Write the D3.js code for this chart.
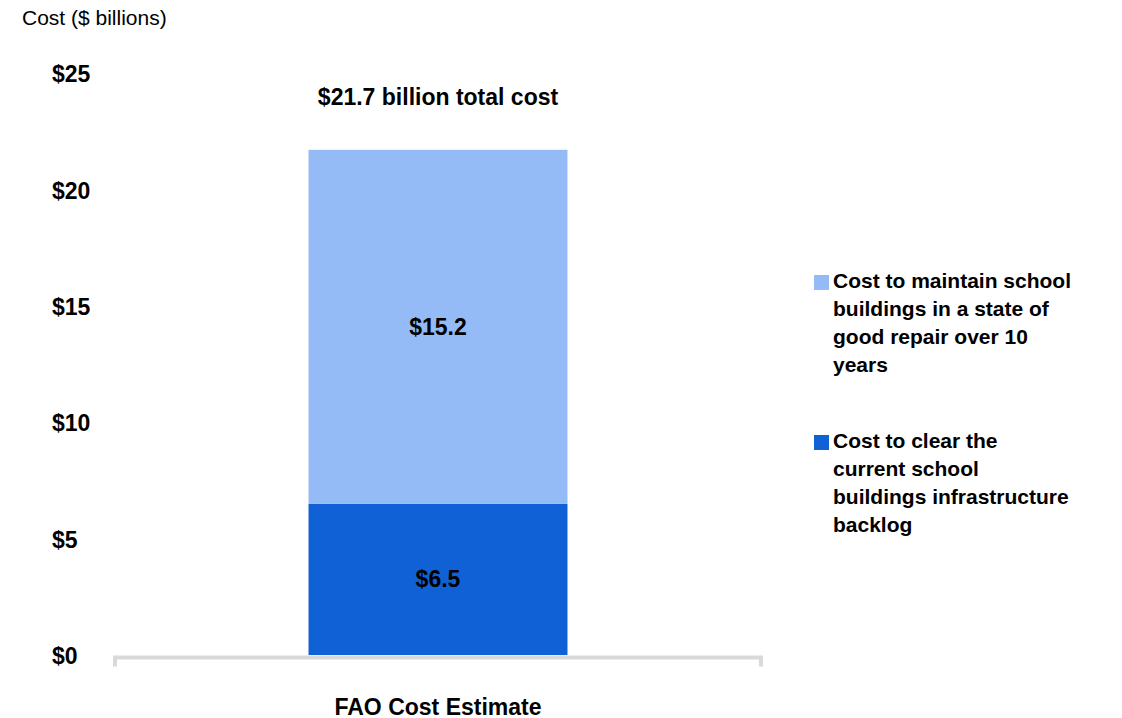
<!DOCTYPE html>
<html>
<head>
<meta charset="utf-8">
<script src="https://cdn.jsdelivr.net/npm/d3@7"></script>
<style>
  body { margin: 0; background: #fff; }
  text { font-family: "Liberation Sans", Arial, sans-serif; fill: #000; }
</style>
</head>
<body>
<div id="chart"></div>
<script>
// data
const categories = ["FAO Cost Estimate"];
const seriesNames = [
    ["Cost to clear the", "current school", "buildings infrastructure", "backlog"],
    ["Cost to maintain school", "buildings in a state of", "good repair over 10", "years"]
];
const backlog = [6.5];
const maintain = [15.2];
const yTicks = [0, 5, 10, 15, 20, 25];
const colors = ["#1161d6", "#95bbf7"];

const dimension = {
    width: 1122,
    height: 718,
    margin: { top: 73, left: 113, bottom: 63, right: 359 }
};
dimension.boundedWidth = dimension.width - dimension.margin.left - dimension.margin.right;
dimension.boundedHeight = dimension.height - dimension.margin.top - dimension.margin.bottom;

const svg = d3.select("#chart").append("svg")
    .attr("width", dimension.width)
    .attr("height", dimension.height);

const bounded = svg.append("g")
    .attr("transform", `translate(${dimension.margin.left},${dimension.margin.top})`);

// scales
const yScaler = d3.scaleLinear().domain([0, 25]).range([dimension.boundedHeight, 0]);
const xScaler = d3.scaleBand().domain(categories).range([0, dimension.boundedWidth]).paddingInner(0).paddingOuter(0.755);

// stacked data
const rows = categories.map((c, i) => ({ cat: c, backlog: backlog[i], maintain: maintain[i] }));
const stack = d3.stack().keys(["backlog", "maintain"])(rows);

// y title
svg.append("text")
    .attr("x", 22).attr("y", 25)
    .style("font-size", "21px")
    .text("Cost ($ billions)");

// y axis labels (left aligned)
const yAxis = d3.axisLeft(yScaler).tickValues(yTicks).tickFormat(d => "$" + d).tickSize(0);
const yg = bounded.append("g").call(yAxis);
yg.select(".domain").remove();
yg.selectAll("text")
    .attr("text-anchor", "start")
    .attr("x", 52 - dimension.margin.left)
    .attr("dy", "0.38em")
    .style("font-size", "23px")
    .style("font-weight", "bold")
    .style("font-family", "Liberation Sans, Arial, sans-serif");

// bars
stack.forEach((layer, li) => {
    bounded.append("g").selectAll("rect")
        .data(layer)
        .join("rect")
        .attr("x", d => xScaler(d.data.cat))
        .attr("width", xScaler.bandwidth())
        .attr("y", d => yScaler(d[1]))
        .attr("height", d => yScaler(d[0]) - yScaler(d[1]))
        .attr("fill", colors[li]);

    bounded.append("g").selectAll("text")
        .data(layer)
        .join("text")
        .attr("x", d => xScaler(d.data.cat) + xScaler.bandwidth() / 2)
        .attr("y", d => yScaler((d[0] + d[1]) / 2) + 8)
        .attr("text-anchor", "middle")
        .style("font-size", "23px")
        .style("font-weight", "bold")
        .text(d => "$" + (d[1] - d[0]).toFixed(1));
});

// total label
bounded.append("g").selectAll("text")
    .data(rows)
    .join("text")
    .attr("x", d => xScaler(d.cat) + xScaler.bandwidth() / 2)
    .attr("y", d => yScaler(d.backlog + d.maintain) - 45)
    .attr("text-anchor", "middle")
    .style("font-size", "23px")
    .style("font-weight", "bold")
    .text(d => "$" + (d.backlog + d.maintain).toFixed(1) + " billion total cost");

// x axis
const xg = bounded.append("g").attr("transform", `translate(0,${dimension.boundedHeight + 2.5})`);
xg.append("path")
    .attr("d", `M2,9V0H${dimension.boundedWidth - 2}V9`)
    .attr("fill", "none")
    .attr("stroke", "#d9d9d9")
    .attr("stroke-width", 4);
xg.selectAll("text.cat")
    .data(categories)
    .join("text")
    .attr("class", "cat")
    .attr("x", d => xScaler(d) + xScaler.bandwidth() / 2)
    .attr("y", 57)
    .attr("text-anchor", "middle")
    .style("font-size", "23px")
    .style("font-weight", "bold")
    .text(d => d);

// legend (maintain first, then backlog)
const legendOrder = [1, 0];
const legend = svg.append("g").attr("transform", "translate(814,275)");
legendOrder.forEach((si, k) => {
    const g = legend.append("g").attr("transform", `translate(0,${k * 160})`);
    g.append("rect").attr("width", 15).attr("height", 15).attr("fill", colors[si]);
    seriesNames[si].forEach((line, j) => {
        g.append("text")
            .attr("x", 19)
            .attr("y", 13 + j * 28)
            .style("font-size", "21px")
            .style("font-weight", "bold")
            .text(line);
    });
});
</script>
</body>
</html>
